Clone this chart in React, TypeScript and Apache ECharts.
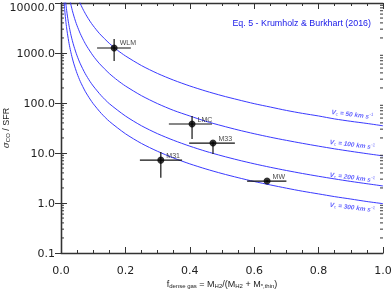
import React, { useEffect, useRef } from "react";
import * as echarts from "echarts";

// ---- data ----
const yDecades = [0.1, 1, 10, 100, 1000, 10000];

const curve50F = [0.055, 0.06, 0.065, 0.07, 0.08, 0.09, 0.1, 0.12, 0.15, 0.175, 0.2, 0.25, 0.3, 0.35, 0.4, 0.45, 0.5, 0.55, 0.6, 0.65, 0.7, 0.75, 0.8, 0.85, 0.9, 0.95, 1.0];
const curve50V = [11600, 9720, 8280, 7140, 5470, 4320, 3500, 2430, 1560, 1140, 875, 560, 389, 286, 219, 173, 140, 116, 97, 83, 71, 62, 55, 48, 43, 39, 35];

const curve100F = [0.027, 0.03, 0.035, 0.04, 0.045, 0.05, 0.06, 0.07, 0.08, 0.1, 0.12, 0.15, 0.175, 0.2, 0.25, 0.3, 0.35, 0.4, 0.45, 0.5, 0.55, 0.6, 0.65, 0.7, 0.75, 0.8, 0.85, 0.9, 0.95, 1.0];
const curve100V = [12000, 9720, 7140, 5470, 4320, 3500, 2430, 1790, 1370, 875, 608, 389, 286, 219, 140, 97, 71, 55, 43, 35, 28.9, 24.3, 20.7, 17.9, 15.6, 13.7, 12.1, 10.8, 9.7, 8.75];

const curve200F = [0.0135, 0.015, 0.0175, 0.02, 0.0225, 0.025, 0.03, 0.035, 0.04, 0.05, 0.06, 0.075, 0.09, 0.1, 0.125, 0.15, 0.2, 0.25, 0.3, 0.35, 0.4, 0.45, 0.5, 0.55, 0.6, 0.65, 0.7, 0.75, 0.8, 0.85, 0.9, 0.95, 1.0];
const curve200V = [12000, 9730, 7150, 5480, 4330, 3500, 2430, 1790, 1370, 876, 608, 389, 270, 219, 140, 97, 55, 35, 24.3, 17.9, 13.7, 10.8, 8.76, 7.24, 6.08, 5.18, 4.47, 3.89, 3.42, 3.03, 2.7, 2.43, 2.19];

const curve300F = [0.009, 0.01, 0.0115, 0.013, 0.015, 0.0175, 0.02, 0.025, 0.03, 0.035, 0.04, 0.05, 0.06, 0.075, 0.09, 0.1, 0.125, 0.15, 0.2, 0.25, 0.3, 0.35, 0.4, 0.45, 0.5, 0.55, 0.6, 0.65, 0.7, 0.75, 0.8, 0.85, 0.9, 0.95, 1.0];
const curve300V = [12000, 9700, 7330, 5740, 4310, 3170, 2430, 1550, 1080, 792, 606, 388, 269, 172, 120, 97, 62, 43, 24.3, 15.5, 10.8, 7.92, 6.06, 4.79, 3.88, 3.21, 2.69, 2.3, 1.98, 1.72, 1.52, 1.34, 1.2, 1.07, 0.97];

const curveSpeeds = ["50", "100", "200", "300"];
const curveLabelX = [0.905, 0.905, 0.905, 0.905];
const curveLabelY = [60, 15, 3.3, 0.83];

const galaxyNames = ["WLM", "LMC", "M33", "M31", "MW"];
const galaxyF = [0.165, 0.407, 0.472, 0.31, 0.64];
const galaxyRatio = [1260, 38, 15.8, 7.2, 2.75];
const galaxyFLow = [0.112, 0.335, 0.398, 0.245, 0.578];
const galaxyFHigh = [0.217, 0.469, 0.54, 0.376, 0.7];
const galaxyRatioLow = [690, 19, 9.5, 3.2, 2.6];
const galaxyRatioHigh = [1900, 55, 17, 10.5, 2.9];

const minorMultipliers = [2, 3, 4, 5, 6, 7, 8, 9];

const BLUE = "#3a3aff";
const TITLE_BLUE = "#1818e8";
const AXIS = "#333333";

export default function App() {
  const ref = useRef<HTMLDivElement>(null);

  useEffect(() => {
    if (!ref.current) return;
    const chart = echarts.init(ref.current, undefined, { renderer: "svg" });

    const curves = [
      [curve50F, curve50V],
      [curve100F, curve100V],
      [curve200F, curve200V],
      [curve300F, curve300V],
    ];

    const minorVals: number[] = [];
    yDecades.slice(0, -1).forEach((d) => minorMultipliers.forEach((m) => minorVals.push(+(d * m).toPrecision(3))));

    const labelRich = {
      v: { fontSize: 6.5, color: BLUE, fontFamily: "Liberation Sans", fontStyle: "italic", fontWeight: "bold" },
      s: { fontSize: 4.5, color: BLUE, fontFamily: "Liberation Sans", verticalAlign: "bottom", padding: [4, 0, 0, 0] },
      p: { fontSize: 4.5, color: BLUE, fontFamily: "Liberation Sans", verticalAlign: "top", padding: [0, 0, 4, 0] },
    };

    const axisCommon = {
      axisLine: { show: true, lineStyle: { color: AXIS, width: 1.3 } },
      splitLine: { show: false },
    };

    const option: any = {
      animation: false,
      title: {
        text: "Eq. 5 - Krumholz & Burkhart (2016)",
        right: 15,
        top: 13,
        textStyle: { fontSize: 8.9, color: TITLE_BLUE, fontWeight: "normal", fontFamily: "Liberation Sans" },
      },
      grid: { left: 61, right: 8, top: 3, bottom: 42, outerBoundsMode: "none", containLabel: false },
      xAxis: [
        {
          type: "value",
          min: 0,
          max: 1,
          interval: 0.2,
          position: "bottom",
          ...axisCommon,
          axisTick: { show: true, inside: true, length: 6, lineStyle: { color: AXIS } },
          minorTick: { show: true, splitNumber: 4, length: 3, lineStyle: { color: AXIS } },
          axisLabel: {
            margin: 12,
            formatter: (v: number) => v.toFixed(1),
            fontFamily: "DejaVu Sans",
            fontSize: 11,
            color: "#222",
          },
          name: "{t|f}{s|dense gas}{t| = M}{s|H2}{t|/(M}{s|H2}{t| + M}{s|*,thin}{t|)}",
          nameLocation: "middle",
          nameGap: 25,
          nameMoveOverlap: false,
          nameTextStyle: {
            rich: {
              t: { fontSize: 9, fontFamily: "Liberation Sans", color: "#222" },
              s: { fontSize: 6, fontFamily: "Liberation Sans", color: "#222", verticalAlign: "bottom", padding: [5, 0, 0, 0] },
            },
          },
        },
        {
          type: "value",
          min: 0,
          max: 1,
          interval: 0.2,
          position: "top",
          ...axisCommon,
          axisTick: { show: true, inside: true, length: 6, lineStyle: { color: AXIS } },
          minorTick: { show: true, splitNumber: 4, length: 3, lineStyle: { color: AXIS } },
          axisLabel: { show: false },
        },
      ],
      yAxis: [
        {
          type: "log",
          logBase: 10,
          min: 0.1,
          max: 10000,
          position: "left",
          ...axisCommon,
          axisTick: { show: true, inside: true, length: 6, lineStyle: { color: AXIS } },
          axisLabel: {
            margin: 6,
            formatter: (v: number) => v.toFixed(1),
            fontFamily: "DejaVu Sans",
            fontSize: 11,
            lineHeight: 8,
            verticalAlignMaxLabel: "top",
            color: "#222",
          },
          name: "{i|σ}{s|CO}{t| / SFR}",
          nameLocation: "middle",
          nameGap: 50,
          nameMoveOverlap: false,
          nameTextStyle: {
            rich: {
              i: { fontSize: 9, fontFamily: "DejaVu Serif", fontStyle: "italic", color: "#222" },
              t: { fontSize: 9, fontFamily: "Liberation Sans", color: "#222" },
              s: { fontSize: 6, fontFamily: "Liberation Sans", color: "#222", verticalAlign: "bottom", padding: [5, 0, 0, 0] },
            },
          },
        },
        {
          type: "log",
          logBase: 10,
          min: 0.1,
          max: 10000,
          position: "right",
          ...axisCommon,
          axisTick: { show: true, inside: true, length: 6, lineStyle: { color: AXIS } },
          axisLabel: { show: false },
        },
      ],
      series: [
        ...curves.map(([fs, vs], i) => ({
          type: "line",
          name: "Vc=" + curveSpeeds[i],
          data: fs.map((f, j) => [f, vs[j]]),
          showSymbol: false,
          symbol: "none",
          smooth: 0.25,
          clip: true,
          lineStyle: { color: BLUE, width: 1 },
          z: 2,
        })),
        {
          type: "scatter",
          name: "curveLabels",
          symbolSize: 0,
          data: curveSpeeds.map((s, i) => ({ value: [curveLabelX[i], curveLabelY[i]], name: s })),
          label: {
            show: true,
            position: "inside",
            rotate: -7,
            formatter: (p: any) => `{v|V}{s|c}{v| = ${p.name} km s}{p|-1}`,
            rich: labelRich,
          },
          z: 3,
        },
        {
          type: "custom",
          name: "minorTicks",
          data: minorVals.map((v) => [0, v]),
          renderItem: (params: any, api: any) => {
            const v = api.value(1);
            const l = api.coord([0, v]);
            const r = api.coord([1, v]);
            const style = { stroke: AXIS, lineWidth: 1 };
            return {
              type: "group",
              children: [
                { type: "line", shape: { x1: l[0], y1: l[1], x2: l[0] + 3, y2: l[1] }, style },
                { type: "line", shape: { x1: r[0] - 3, y1: r[1], x2: r[0], y2: r[1] }, style },
              ],
            };
          },
          z: 4,
        },
        {
          type: "custom",
          name: "errorBars",
          data: galaxyNames.map((n, i) => [galaxyF[i], galaxyRatio[i], galaxyFLow[i], galaxyFHigh[i], galaxyRatioLow[i], galaxyRatioHigh[i]]),
          renderItem: (params: any, api: any) => {
            const x = api.value(0);
            const y = api.value(1);
            const a = api.coord([api.value(2), y]);
            const b = api.coord([api.value(3), y]);
            const c = api.coord([x, api.value(4)]);
            const d = api.coord([x, api.value(5)]);
            const style = { stroke: "#111", lineWidth: 1.2 };
            return {
              type: "group",
              children: [
                { type: "line", shape: { x1: a[0], y1: a[1], x2: b[0], y2: b[1] }, style },
                { type: "line", shape: { x1: c[0], y1: c[1], x2: d[0], y2: d[1] }, style },
              ],
            };
          },
          z: 5,
        },
        {
          type: "scatter",
          name: "galaxies",
          symbol: "circle",
          symbolSize: 7,
          itemStyle: { color: "#000" },
          data: galaxyNames.map((n, i) => ({ value: [galaxyF[i], galaxyRatio[i]], name: n })),
          label: {
            show: true,
            position: "right",
            distance: 2,
            offset: [0, -5],
            formatter: (p: any) => p.name,
            fontSize: 7,
            fontFamily: "Liberation Sans",
            color: "#111",
          },
          z: 6,
        },
      ],
    };

    chart.setOption(option);
    return () => chart.dispose();
  }, []);

  return <div ref={ref} style={{ position: "fixed", left: 0, top: 0, width: 391, height: 295 }} />;
}
